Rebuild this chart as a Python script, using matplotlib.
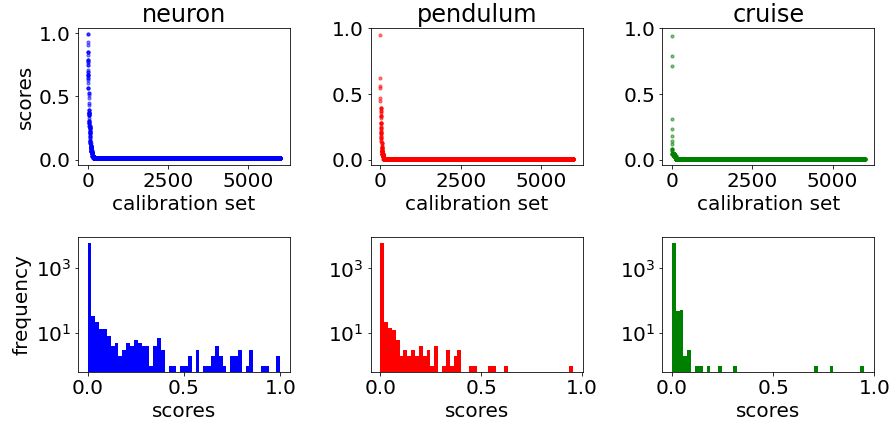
import numpy as np
import matplotlib
matplotlib.use("Agg")
import matplotlib.pyplot as plt
from matplotlib.ticker import NullLocator

# histogram counts per bin (50 bins from 0 to max score)
names = ["neuron", "pendulum", "cruise"]
colors = ["blue", "red", "green"]
score_max = [1.0, 0.955, 0.95]

neuron_counts = [5818, 34, 22, 13, 13, 8, 4, 5, 2, 3,
                 5, 4, 6, 5, 4, 4, 1, 4, 7, 3,
                 0, 1, 1, 0, 1, 1, 2, 0, 3, 0,
                 1, 1, 2, 4, 2, 1, 0, 2, 2, 3,
                 0, 1, 3, 0, 0, 1, 1, 0, 0, 2]
pendulum_counts = [5903, 22, 14, 13, 6, 2, 3, 2, 3, 2,
                   4, 2, 3, 1, 4, 0, 1, 3, 1, 2,
                   3, 0, 0, 1, 1, 0, 0, 0, 1, 1,
                   0, 0, 1, 0, 0, 0, 0, 0, 0, 0,
                   0, 0, 0, 0, 0, 0, 0, 0, 0, 1]
cruise_counts = [5887, 48, 52, 2, 3, 0, 1, 1, 0, 1,
                 0, 0, 1, 0, 0, 0, 1, 0, 0, 0,
                 0, 0, 0, 0, 0, 0, 0, 0, 0, 0,
                 0, 0, 0, 0, 0, 0, 0, 1, 0, 0,
                 0, 1, 0, 0, 0, 0, 0, 0, 0, 1]
all_counts = [neuron_counts, pendulum_counts, cruise_counts]

plt.rcParams['font.size'] = 20

fig = plt.figure(figsize=(893 / 72, 424 / 72), dpi=72)

lefts = [0.0873, 0.4151, 0.7417]
w = 0.2374

for i in range(3):
    edges = np.linspace(0, score_max[i], 51)
    centers = (edges[:-1] + edges[1:]) / 2
    scores = np.repeat(centers, all_counts[i])[::-1]  # sorted, high to low

    # top: sorted scores over calibration set
    ax = fig.add_axes([lefts[i], 0.6116, w, 0.3217])
    ax.scatter(np.arange(len(scores)), scores, s=10, color=colors[i], alpha=0.5)
    ax.set_title(names[i], fontsize=24)
    ax.set_xlabel("calibration set")
    ax.set_xticks([0, 2500, 5000])
    ax.set_yticks([0.0, 0.5, 1.0])
    if i == 0:
        ax.set_ylabel("scores")

    # bottom: histogram of scores
    ax2 = fig.add_axes([lefts[i], 0.1233, w, 0.317])
    ax2.hist(scores, bins=edges, log=True, color=colors[i])
    ax2.set_xlabel("scores")
    ax2.set_xticks([0.0, 0.5, 1.0])
    ax2.set_yticks([10, 1000])
    ax2.yaxis.set_minor_locator(NullLocator())
    if i == 0:
        ax2.set_ylabel("frequency")

fig.savefig("out.png", dpi=72)
